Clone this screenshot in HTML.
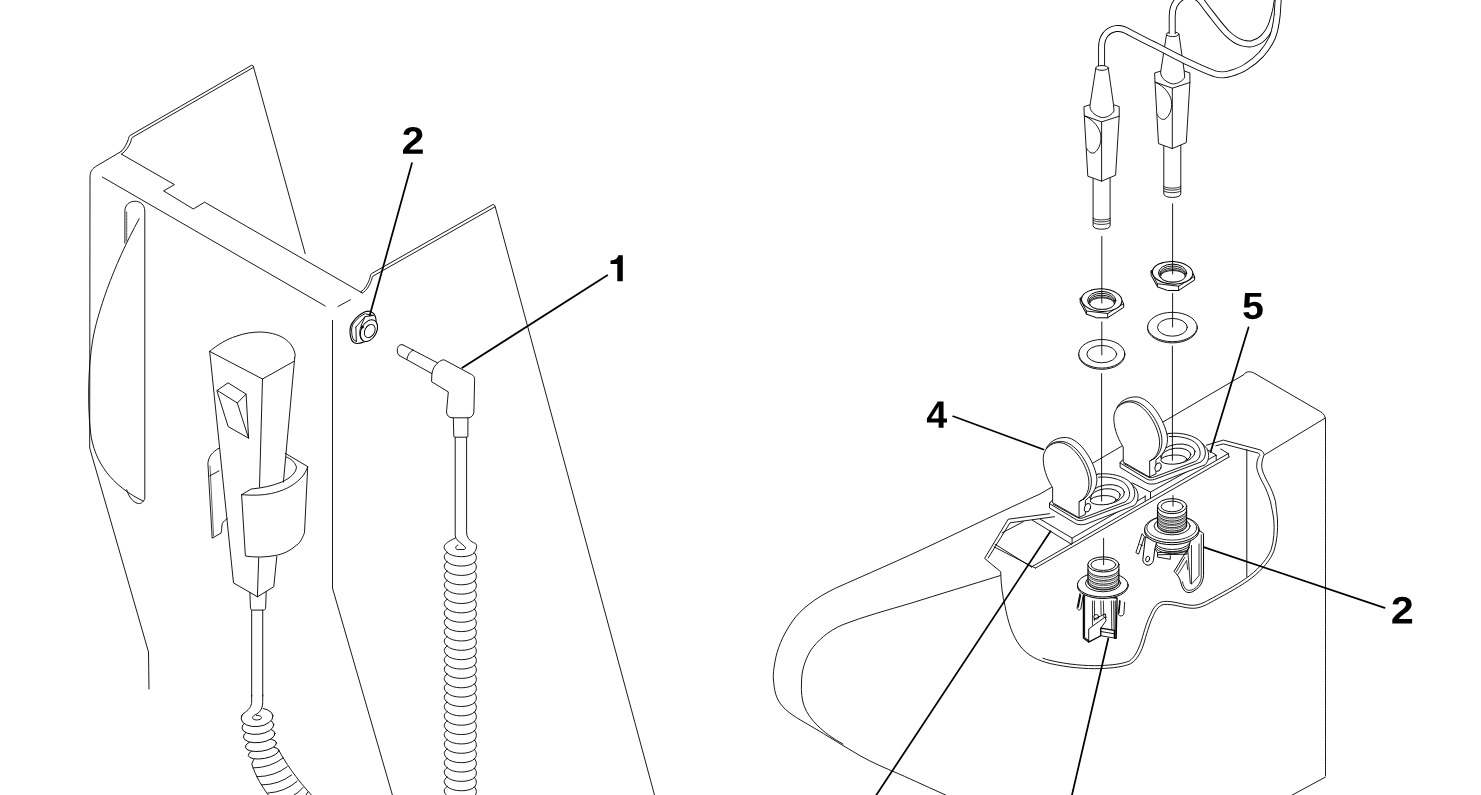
<!DOCTYPE html>
<html><head><meta charset="utf-8"><title>Diagram</title>
<style>
html,body{margin:0;padding:0;background:#fff;}
body{width:1481px;height:795px;overflow:hidden;font-family:"Liberation Sans",sans-serif;}
svg{display:block;}
path,ellipse,circle{stroke-linecap:round;stroke-linejoin:round;}
</style></head><body>
<svg width="1481" height="795" viewBox="0 0 1481 795">
<rect x="0" y="0" width="1481" height="795" fill="#fff"/>
<path d="M121.3 151.4 C124.5 148.6 127 143 128.3 139.5 C128.8 137.5 129 136.5 129.7 135.7 L251.7 65.2 L253.2 65.9 L305.2 253.7" fill="none" stroke="#000" stroke-width="0.9" />
<path d="M121.5 154.2 C125.5 151.5 129 146.5 130.7 142 C131.3 139.8 131.5 138.4 132.2 137.5 L253.1 67.6" fill="none" stroke="#000" stroke-width="0.9" />
<path d="M121.5 154.2 L174.4 184.6 L163.6 190.9 L193.3 209 L204.6 202.2 L361.8 292.7" fill="none" stroke="#000" stroke-width="0.9" />
<path d="M121.3 151.4 L97 165.7 C92 168.7 90 171.5 90 177.5 L89.7 448 L148.5 652 L149 689" fill="none" stroke="#000" stroke-width="0.9" />
<path d="M102.3 177 L325.3 306" fill="none" stroke="#000" stroke-width="0.9" />
<path d="M338 306.5L350.5 299.7" fill="none" stroke="#000" stroke-width="0.9" />
<path d="M332.5 320.4 L332.5 588.2 L392.4 795" fill="none" stroke="#000" stroke-width="0.9" />
<path d="M360.6 292 C365 289.5 368.5 283 370 277.5 C370.3 275.5 370.8 274.3 371.7 273.5 L493.2 204.4 L494.9 205.6 L654.5 795" fill="none" stroke="#000" stroke-width="0.9" />
<path d="M362.2 293.3 C367 290.5 370.5 284 372 278.5 C372.3 277.2 372.5 276.6 372.9 276.2 L494.7 207.0" fill="none" stroke="#000" stroke-width="0.9" />
<path d="M124.9 243.2 L124.9 211 C124.9 198 144.8 198 144.8 211 L144.8 498.5 C143.5 502.5 140 504 138 503.5 C132 502 128 495 126.7 489.7" fill="none" stroke="#000" stroke-width="0.9" />
<path d="M126.7 212 L126.7 241" fill="none" stroke="#000" stroke-width="0.7" stroke-dasharray="2.2 0.8"/>
<path d="M139.2 218.7 C112 268 97 315 92.7 340 C88 368 87.5 405 90.5 432 C94 462 112 486 143 501" fill="none" stroke="#000" stroke-width="0.9" />
<path d="M219 448.2 C212 452 208.5 457 207.9 463.3 L212.2 538.2 L221 533.1 C222 530 221.5 526.5 222.2 523.8 C223.5 521 225.5 520 227.3 518.8" fill="none" stroke="#000" stroke-width="0.9" />
<path d="M209.7 475.9 L219 470.9" fill="none" stroke="#000" stroke-width="0.9" />
<path d="M210 466 L213.6 536" fill="none" stroke="#000" stroke-width="0.6" />
<path d="M209.7 351.4 C217 345 227 339 236 336.3 C245 333 253 332 261.2 332 C272 332.5 281 335.5 286.4 340 C291.5 344 294.5 349.5 295.2 355.2 L294.7 357.7" fill="none" stroke="#000" stroke-width="0.9" />
<path d="M209.7 351.4 L262.5 379 L293.9 361.4" fill="none" stroke="#000" stroke-width="0.9" />
<path d="M209.7 351.4 L233.5 582.9 L257.4 596.8 L273.8 586.7 L276.8 556.5" fill="none" stroke="#000" stroke-width="0.9" />
<path d="M262.5 379 L259.5 487.2" fill="none" stroke="#000" stroke-width="0.9" />
<path d="M258.7 557.8 L257.4 596.8" fill="none" stroke="#000" stroke-width="0.9" />
<path d="M294.7 357.7 L283.4 482.2" fill="none" stroke="#000" stroke-width="0.9" />
<path d="M217.2 390.4 L228 382.8 L246.1 394.1 L248.6 438.2 L228.5 426.8 Z" fill="none" stroke="#000" stroke-width="0.9" />
<path d="M217.2 390.4 L237.3 403 L246.1 394.1 M237.3 403 L248.6 438.2" fill="none" stroke="#000" stroke-width="0.9" />
<path d="M285.1 453.2 L307.7 466.6 L304.5 532.6 C302 540 298 545 296.4 545.2 C290 551 283 554 276.3 555.3 C265 557.5 255 557.5 245.4 556 L241.6 494.7" fill="none" stroke="#000" stroke-width="0.9" />
<path d="M286.4 457 C291 459 295 462 296.4 467 C296.5 472 291 478 281.3 482.2 C272 486 262 488 251.2 489 L241.6 494.7" fill="none" stroke="#000" stroke-width="0.9" />
<path d="M241.6 494.7 C252 495.5 262 495.5 271.3 493.5 C283 491 293 486 300 479 C304 475 306.5 471 307.7 466.6" fill="none" stroke="#000" stroke-width="0.9" />
<path d="M249.9 592.5 L250.4 606.8 C250.5 609 251 610.1 252.4 610.1 L263.7 610.1 C265 610.1 265.6 609 265.7 606.8 L266.2 591.5" fill="none" stroke="#000" stroke-width="0.9" />
<path d="M251.67 610.1 L251.67 696" fill="none" stroke="#000" stroke-width="0.9" />
<path d="M262.74 610.1 L262.74 696" fill="none" stroke="#000" stroke-width="0.9" />
<path d="M403 344.9 L437.7 363 M399.2 355.5 L431.9 373.6" fill="none" stroke="#000" stroke-width="0.9" />
<path d="M403 344.9 C400 343.8 397.5 346 397.3 350 C397.2 353 398 354.8 399.2 355.5" fill="none" stroke="#000" stroke-width="0.9" />
<path d="M413.2 349.9 C410 351.5 407.5 355 406.9 359.3" fill="none" stroke="#000" stroke-width="0.9" />
<path d="M431.9 373.6 C432.5 369 435 365 437.7 363 C440 360.5 442.5 359.6 444.5 360 L471.5 374.5 C473.5 375.6 474.6 377 474.6 379.5 L473.9 412 C473.5 415.5 471 417.8 468.4 417.8 L452 417.8 C449 417.8 446.5 415 446.5 412 L448.3 391.9 L431.9 381.9 Z" fill="none" stroke="#000" stroke-width="0.9" />
<path d="M453.3 417.8 L453.8 435.9 C453.8 437 454.5 437.2 455.3 437.2 L466.6 437.2 C467.5 437.2 467.9 437 467.9 435.9 L467.9 417.8" fill="none" stroke="#000" stroke-width="0.9" />
<path d="M455.2 437.2 L455.2 535.1 C455.5 538 456.5 539.5 457.9 540.6 C461 543.5 464 545.5 465.4 547.3 C465.6 548.5 465 549.3 464.3 549.5 L457.3 549.5 C456.3 549.2 455.7 548.5 455.7 547.6 C456 546.2 456.8 545.4 457.9 545.1" fill="none" stroke="#000" stroke-width="0.9" />
<path d="M466.6 437.2 L466.6 531.9 C466.6 533.5 466.8 534.7 467.1 535.7 C468 538 469 539.5 470.3 540.6 C472.5 542.3 474.5 543 475.7 543.8 C476.8 545 476.8 546 476.5 547 C476.3 549.5 475.5 551 474.1 552.4" fill="none" stroke="#000" stroke-width="0.9" />
<path d="M455.2 538.1 C453.5 539 452 539.6 450.3 540.6 C448 541.8 446.5 543 445.4 544.3 C444.3 545.5 444 546.6 444.1 547.6 C444.5 549.5 445.8 551 447.3 552.4" fill="none" stroke="#000" stroke-width="0.9" />
<path d="M447.10 552.40 C452.10 558.01 469.50 558.31 474.50 552.90 M447.10 552.40 C443.20 555.21 443.20 558.20 447.10 561.76 M474.50 552.90 C477.06 555.71 477.06 559.45 474.50 562.26 M447.10 561.76 C452.10 567.37 469.50 567.67 474.50 562.26 M447.10 561.76 C443.20 564.57 443.20 567.57 447.10 571.12 M474.50 562.26 C477.06 565.07 477.06 568.82 474.50 571.62 M447.10 571.12 C452.10 576.74 469.50 577.04 474.50 571.62 M447.10 571.12 C443.20 573.93 443.20 576.93 447.10 580.49 M474.50 571.62 C477.06 574.43 477.06 578.18 474.50 580.99 M447.10 580.49 C452.10 586.10 469.50 586.40 474.50 580.99 M447.10 580.49 C443.20 583.29 443.20 586.29 447.10 589.85 M474.50 580.99 C477.06 583.79 477.06 587.54 474.50 590.35 M447.10 589.85 C452.10 595.46 469.50 595.76 474.50 590.35 M447.10 589.85 C443.20 592.66 443.20 595.65 447.10 599.21 M474.50 590.35 C477.06 593.16 477.06 596.90 474.50 599.71 M447.10 599.21 C452.10 604.82 469.50 605.12 474.50 599.71 M447.10 599.21 C443.20 602.02 443.20 605.01 447.10 608.57 M474.50 599.71 C477.06 602.52 477.06 606.26 474.50 609.07 M447.10 608.57 C452.10 614.18 469.50 614.48 474.50 609.07 M447.10 608.57 C443.20 611.38 443.20 614.38 447.10 617.93 M474.50 609.07 C477.06 611.88 477.06 615.63 474.50 618.43 M447.10 617.93 C452.10 623.55 469.50 623.85 474.50 618.43 M447.10 617.93 C443.20 620.74 443.20 623.74 447.10 627.30 M474.50 618.43 C477.06 621.24 477.06 624.99 474.50 627.80 M447.10 627.30 C452.10 632.91 469.50 633.21 474.50 627.80 M447.10 627.30 C443.20 630.10 443.20 633.10 447.10 636.66 M474.50 627.80 C477.06 630.60 477.06 634.35 474.50 637.16 M447.10 636.66 C452.10 642.27 469.50 642.57 474.50 637.16 M447.10 636.66 C443.20 639.47 443.20 642.46 447.10 646.02 M474.50 637.16 C477.06 639.97 477.06 643.71 474.50 646.52 M447.10 646.02 C452.10 651.63 469.50 651.93 474.50 646.52 M447.10 646.02 C443.20 648.83 443.20 651.82 447.10 655.38 M474.50 646.52 C477.06 649.33 477.06 653.07 474.50 655.88 M447.10 655.38 C452.10 660.99 469.50 661.29 474.50 655.88 M447.10 655.38 C443.20 658.19 443.20 661.19 447.10 664.74 M474.50 655.88 C477.06 658.69 477.06 662.44 474.50 665.24 M447.10 664.74 C452.10 670.36 469.50 670.66 474.50 665.24 M447.10 664.74 C443.20 667.55 443.20 670.55 447.10 674.11 M474.50 665.24 C477.06 668.05 477.06 671.80 474.50 674.61 M447.10 674.11 C452.10 679.72 469.50 680.02 474.50 674.61 M447.10 674.11 C443.20 676.91 443.20 679.91 447.10 683.47 M474.50 674.61 C477.06 677.41 477.06 681.16 474.50 683.97 M447.10 683.47 C452.10 689.08 469.50 689.38 474.50 683.97 M447.10 683.47 C443.20 686.28 443.20 689.27 447.10 692.83 M474.50 683.97 C477.06 686.78 477.06 690.52 474.50 693.33 M447.10 692.83 C452.10 698.44 469.50 698.74 474.50 693.33 M447.10 692.83 C443.20 695.64 443.20 698.63 447.10 702.19 M474.50 693.33 C477.06 696.14 477.06 699.88 474.50 702.69 M447.10 702.19 C452.10 707.80 469.50 708.10 474.50 702.69 M447.10 702.19 C443.20 705.00 443.20 708.00 447.10 711.55 M474.50 702.69 C477.06 705.50 477.06 709.25 474.50 712.05 M447.10 711.55 C452.10 717.17 469.50 717.47 474.50 712.05 M447.10 711.55 C443.20 714.36 443.20 717.36 447.10 720.92 M474.50 712.05 C477.06 714.86 477.06 718.61 474.50 721.42 M447.10 720.92 C452.10 726.53 469.50 726.83 474.50 721.42 M447.10 720.92 C443.20 723.72 443.20 726.72 447.10 730.28 M474.50 721.42 C477.06 724.22 477.06 727.97 474.50 730.78 M447.10 730.28 C452.10 735.89 469.50 736.19 474.50 730.78 M447.10 730.28 C443.20 733.09 443.20 736.08 447.10 739.64 M474.50 730.78 C477.06 733.59 477.06 737.33 474.50 740.14 M447.10 739.64 C452.10 745.25 469.50 745.55 474.50 740.14 M447.10 739.64 C443.20 742.45 443.20 745.44 447.10 749.00 M474.50 740.14 C477.06 742.95 477.06 746.69 474.50 749.50 M447.10 749.00 C452.10 754.61 469.50 754.91 474.50 749.50 M447.10 749.00 C443.20 751.81 443.20 754.81 447.10 758.36 M474.50 749.50 C477.06 752.31 477.06 756.06 474.50 758.86 M447.10 758.36 C452.10 763.98 469.50 764.28 474.50 758.86 M447.10 758.36 C443.20 761.17 443.20 764.17 447.10 767.73 M474.50 758.86 C477.06 761.67 477.06 765.42 474.50 768.23 M447.10 767.73 C452.10 773.34 469.50 773.64 474.50 768.23 M447.10 767.73 C443.20 770.53 443.20 773.53 447.10 777.09 M474.50 768.23 C477.06 771.03 477.06 774.78 474.50 777.59 M447.10 777.09 C452.10 782.70 469.50 783.00 474.50 777.59 M447.10 777.09 C443.20 779.90 443.20 782.89 447.10 786.45 M474.50 777.59 C477.06 780.40 477.06 784.14 474.50 786.95 M447.10 786.45 C452.10 792.06 469.50 792.36 474.50 786.95 M447.10 786.45 C443.20 789.26 443.20 792.25 447.10 795.81 M474.50 786.95 C477.06 789.76 477.06 793.50 474.50 796.31 " fill="none" stroke="#000" stroke-width="0.9" />
<path d="M254.18 758.52 L251.79 763.93 C255.19 775.50 262.74 788.08 270.28 797.52 L313.68 797.52 C295.44 778.02 284.12 760.41 278.84 750.35 Z" fill="#fff" stroke="#000" stroke-width="0.9" />
<path d="M252.92 767.96 Q270.79 767.70 283.11 757.89 M256.70 776.76 Q274.75 776.51 287.26 766.70 M261.48 784.94 Q279.34 784.69 291.67 774.87 M267.77 793.11 Q285.31 791.92 297.33 781.16 M280.35 799.40 Q294.43 798.21 302.99 787.45 M292.92 801.92 Q303.24 801.67 308.02 791.86 " fill="none" stroke="#000" stroke-width="0.9" />
<ellipse cx="263.55" cy="752.86" rx="15.50" ry="5.60" transform="rotate(-10 263.55 752.86)" fill="#fff" stroke="#000" stroke-width="0.9"/>
<ellipse cx="260.97" cy="745.00" rx="15.70" ry="6.20" transform="rotate(-8 260.97 745.00)" fill="#fff" stroke="#000" stroke-width="0.9"/>
<ellipse cx="259.21" cy="735.25" rx="15.90" ry="7.30" transform="rotate(-7 259.21 735.25)" fill="#fff" stroke="#000" stroke-width="0.9"/>
<ellipse cx="257.89" cy="726.26" rx="16.00" ry="8.00" transform="rotate(-6.5 257.89 726.26)" fill="#fff" stroke="#000" stroke-width="0.9"/>
<ellipse cx="257.08" cy="717.33" rx="16.00" ry="9.20" transform="rotate(-5.5 257.08 717.33)" fill="#fff" stroke="#000" stroke-width="0.9"/>
<path d="M245.13 706.95 L251.67 700.03 L262.74 700.03 L262.74 710.72 L255.19 713.87 L243.87 713.87 Z" fill="#fff" stroke="none" stroke-width="0" />
<path d="M251.67 695.00 L251.67 701.29 C251.67 706.95 248.27 710.09 243.87 713.24 C242.61 714.12 241.86 715.13 241.35 716.38 " fill="none" stroke="#000" stroke-width="0.9" />
<path d="M262.74 695.00 L262.74 701.92 C262.74 707.58 260.85 711.35 257.08 713.87 C253.30 715.13 252.04 717.01 252.92 718.65 C254.56 720.79 260.85 720.16 261.48 717.89 C261.73 716.13 258.96 715.13 256.45 715.50 " fill="none" stroke="#000" stroke-width="0.9" />
<path d="M350.02 329.83 C350.28 325.60 351.87 322.96 353.45 321.38 C356.09 317.68 360.32 313.98 365.07 311.87 C367.72 310.71 371.41 311.34 373.53 313.45 C375.38 315.57 376.17 318.73 376.17 322.43 C377.75 325.07 377.75 328.24 376.70 331.41 C375.11 336.17 370.36 340.39 365.07 341.45 C362.96 342.51 360.32 343.30 357.15 343.56 C353.98 343.56 351.34 340.92 350.55 336.70 C350.02 334.05 349.91 331.94 350.02 329.83 Z" fill="#fff" stroke="#000" stroke-width="1.1" />
<path d="M351.60 329.83 C351.87 326.13 352.92 323.49 354.77 321.90 C357.68 318.21 360.85 315.57 365.07 313.72 M351.60 329.83 C351.60 333.53 352.13 337.75 353.72 339.87 L356.36 341.45 " fill="none" stroke="#000" stroke-width="0.9" />
<path d="M355.83 327.19 L365.07 316.62 L372.47 315.57 M355.83 327.19 L356.36 341.45 M365.07 316.62 L360.85 326.13 M366.13 313.98 L373.79 315.57 " fill="none" stroke="#000" stroke-width="0.9" />
<ellipse cx="368.88" cy="330.62" rx="7.60" ry="11.60" transform="rotate(28 368.88 330.62)" fill="#fff" stroke="#000" stroke-width="1.0"/>
<ellipse cx="369.72" cy="330.99" rx="4.90" ry="7.00" transform="rotate(28 369.72 330.99)" fill="#fff" stroke="#000" stroke-width="0.9"/>
<path d="M360.85 327.19 C359.26 331.41 359.26 335.64 361.38 338.81 " fill="none" stroke="#000" stroke-width="1.0" />
<circle cx="362.43" cy="326.92" r="1.5" fill="#000"/>
<path d="M411.9 163.2L369.7 315.5" fill="none" stroke="#000" stroke-width="1.75" />
<path d="M607.3 275.3L462.3 367.8" fill="none" stroke="#000" stroke-width="1.75" />
<path d="M71 0V195Q126 316 227.5 431.0Q329 546 483 671Q631 791 690.5 869.0Q750 947 750 1022Q750 1206 565 1206Q475 1206 427.5 1157.5Q380 1109 366 1012L83 1028Q107 1224 229.5 1327.0Q352 1430 563 1430Q791 1430 913.0 1326.0Q1035 1222 1035 1034Q1035 935 996.0 855.0Q957 775 896.0 707.5Q835 640 760.5 581.0Q686 522 616.0 466.0Q546 410 488.5 353.0Q431 296 403 231H1057V0Z" transform="translate(401.57 153.8) scale(0.0201 -0.0187)" fill="#000" stroke="none"/>
<path d="M622.8 255.2 L618.2 255.2 C617.8 258.2 615.3 260.2 610.5 260.5 L610.5 264.1 L617.3 264.1 L617.3 281.2 L622.8 281.2 Z" fill="#000"/>
<path d="M1243.3 375 L1040 494 C1000 512 970 527 936.1 542.9 C900 560 865 575 835.5 588.2 C815 598 800 610 792.7 620.9 C782 636 777 650 775.1 661.1 C773 672 773 678 773.8 683 C774.5 692 776.5 698 780.1 703.2 C786 712 797 718 810.3 725.8 C828 736 845 747 860.6 756 C873 763 885 768 898.3 773.6 C915 781 930 788 950 797" fill="none" stroke="#000" stroke-width="0.9" />
<path d="M1000.2 575.6 C970 585 940 594 910.9 603.2 C888 610 865 616 843 624.6 C828 631 817 641 810.3 651 C804 662 801.5 672 801.5 683 C801 692 802 700 804 705.7 C807 714 812 720 817.8 725.8 C824 732 832 738 843 744" fill="none" stroke="#000" stroke-width="0.9" />
<path d="M1243.3 375 C1245 372.5 1248 370.5 1253.4 372.7 L1320.5 411.7 C1324 414 1325.5 416 1325.5 420.5" fill="none" stroke="#000" stroke-width="0.9" />
<path d="M1325.3 418 L1264.9 454.6" fill="none" stroke="#000" stroke-width="0.9" />
<path d="M1325.5 420.5 L1325.5 776" fill="none" stroke="#000" stroke-width="0.9" stroke-dasharray="2.2 0.6"/>
<path d="M1325.5 777 L1288.6 797" fill="none" stroke="#000" stroke-width="0.9" />
<path d="M1246.8 449.6L1246.8 576.8" fill="none" stroke="#000" stroke-width="0.9" />
<path d="M1049.5 513.7 L1008.2 519.2 L984.6 558.4 L1000.7 571.8 C1001 585 1002.5 596 1005 605.8 C1008 622 1012 635 1020.1 646 C1028 656 1038 660.5 1050.3 663.6 C1068 667.5 1085 669 1100.6 668.6 C1113 668 1123 667 1130.8 663.6 C1137 660 1141.5 652 1144.6 641 C1147.5 631 1150 622 1153.4 615.8 C1156 609 1159.5 605.5 1163.5 604.5 C1174 603.5 1184 608.5 1193.7 608.3 C1201 608 1207 604.5 1213.8 600.7 C1228 593 1241 586 1251.5 578.1 C1263 569 1270.5 560 1274.2 550.4 C1277 541 1278 530 1277.5 520 C1277 513 1276 507 1275.6 501.8 C1273.5 494 1271 488 1268 482.9 C1264.5 476 1262 471 1261.7 466.6 C1261.5 462 1263 458 1264.2 454.6 C1263.5 452 1262 450.5 1259.2 449.6 L1223.3 440.1 L1206.4 445.2" fill="none" stroke="#000" stroke-width="0.9" />
<path d="M1054.5 516.7 L1010 522.8 L988.2 558 M1043 658.2 C1045.5 659.2 1048 660 1051 660.6 C1068 664.5 1085 666 1100.4 665.6 C1112.5 665 1122 664 1129.3 661 C1134.5 657.5 1138.5 650 1141.6 640 C1144.5 630 1147 621 1150.5 614.6 C1153.5 607 1157.5 602.5 1163.3 601.5 C1174 600.5 1184 605.5 1193.5 605.3 C1200 605 1206 601.5 1212.3 598.1 C1226.5 590.4 1239.5 583.4 1249.7 575.6 C1260.5 567 1267.5 558.5 1271.2 549.4 C1274 540.5 1274.6 530 1273.8 520 C1273 513 1271.5 507 1270.5 501.8 C1268.5 495 1266.5 490 1264.2 485.4 C1260 478 1257 471.5 1256.7 466.6 C1256.5 462 1258 457 1259.8 455.5 C1259.5 454 1259 453.3 1258 453 L1223.3 443.9 L1215.8 445.8" fill="none" stroke="#000" stroke-width="0.9" />
<path d="M1002.2 532.8 L1023.3 521.7" fill="none" stroke="#000" stroke-width="0.9" />
<path d="M995.1 544.3 L1031.4 567.0 M994.1 546.9 L1035.4 568.1" fill="none" stroke="#000" stroke-width="0.9" />
<path d="M1228.2 453.6 L1031.4 567.0" fill="none" stroke="#000" stroke-width="0.9" />
<path d="M1229 457 L1035.4 568.1" fill="none" stroke="#000" stroke-width="0.9" />
<path d="M1228.2 453.6 L1229 457 M1228.2 453.6 L1220.7 449" fill="none" stroke="#000" stroke-width="0.9" />
<path d="M1040.4 519.2 L1072.1 538.1 L1072.1 543.5 M1032.4 520.2 L1071.6 544.3" fill="none" stroke="#000" stroke-width="0.9" />
<path d="M1072.1 538.1 L1136.2 501.2 L1136.2 492.8 M1145.2 495.8 L1145.2 500.6 M1136.2 501.6 L1145.2 496.4" fill="none" stroke="#000" stroke-width="0.9" />
<path d="M1132.1 482.8 L1150.5 492.1 L1150.5 498.1" fill="none" stroke="#000" stroke-width="0.9" />
<path d="M1150.5 492.1 L1216.2 455.1 L1216.2 459.8 M1216.2 455.1 L1207.5 449.8" fill="none" stroke="#000" stroke-width="0.9" />
<path d="M1120.10 462.98 L1120.10 467.39 L1146.51 483.11 C1149.03 484.37 1153.43 484.37 1156.57 483.49 L1205.00 464.87 C1208.78 461.10 1210.03 454.81 1206.89 448.52 L1201.23 442.23 L1169.15 433.43 Z" fill="#fff" stroke="#000" stroke-width="0.9" />
<path d="M1120.10 462.98 L1147.14 479.34 C1149.03 480.22 1152.17 480.22 1154.69 479.34 L1199.97 462.36 C1206.26 459.21 1207.52 449.78 1201.23 442.23 C1194.94 435.31 1181.10 432.17 1169.15 433.43 L1138.34 444.75 Z" fill="#fff" stroke="#000" stroke-width="0.9" />
<path d="M1123.87 463.61 L1148.15 477.07 C1150.29 477.95 1152.17 477.83 1154.06 477.07 L1195.57 461.35 C1201.23 457.95 1201.86 450.41 1196.45 443.74 C1191.17 438.21 1179.22 435.69 1169.15 436.57 " fill="none" stroke="#000" stroke-width="0.9" />
<ellipse cx="1177.58" cy="453.80" rx="17.60" ry="9.60" transform="rotate(-8 1177.58 453.80)" fill="#fff" stroke="#000" stroke-width="0.9"/>
<ellipse cx="1176.07" cy="455.82" rx="14.80" ry="7.60" transform="rotate(-6 1176.07 455.82)" fill="#fff" stroke="#000" stroke-width="0.9"/>
<ellipse cx="1173.81" cy="459.59" rx="13.00" ry="4.60" transform="rotate(-3 1173.81 459.59)" fill="#fff" stroke="#000" stroke-width="0.9"/>
<path d="M1116.70 408.27 C1119.47 401.35 1127.64 396.32 1137.08 396.95 C1150.91 398.21 1164.75 420.85 1167.27 435.94 C1168.52 444.75 1164.75 453.55 1155.95 459.84 L1155.95 473.93 L1149.66 476.82 L1123.24 461.73 L1123.24 427.14 Z" fill="#fff" stroke="none" stroke-width="0" />
<path d="M1116.70 408.27 C1119.47 401.35 1127.64 396.32 1137.08 396.95 C1150.91 398.21 1164.75 420.85 1167.27 435.94 C1168.52 444.75 1164.75 453.55 1155.95 459.84 L1155.95 473.93 L1149.66 476.82 " fill="none" stroke="#000" stroke-width="0.9" />
<path d="M1117.58 407.01 C1121.35 401.98 1127.27 400.72 1132.05 400.85 C1145.38 401.48 1158.96 420.85 1161.73 436.95 C1162.99 446.63 1159.72 454.81 1153.93 458.96 " fill="none" stroke="#000" stroke-width="0.9" />
<ellipse cx="1158.08" cy="467.14" rx="2.90" ry="4.40" transform="rotate(18 1158.08 467.14)" fill="#fff" stroke="#000" stroke-width="0.9"/>
<path d="M1123.24 461.73 L1123.24 447.01 C1120.47 442.86 1113.68 430.91 1113.81 417.70 C1113.93 408.27 1121.73 401.98 1129.53 401.98 C1142.11 401.98 1155.95 420.85 1159.09 437.20 C1160.98 448.52 1157.20 457.32 1149.66 461.10 L1149.66 476.82 Z" fill="#fff" stroke="#000" stroke-width="0.9" />
<path d="M1149.66 461.10 L1154.94 458.08 " fill="none" stroke="#000" stroke-width="0.9" />
<path d="M1049.50 503.58 L1049.50 507.99 L1075.91 523.71 C1078.43 524.97 1082.83 524.97 1085.97 524.09 L1134.40 505.47 C1138.18 501.70 1139.43 495.41 1136.29 489.12 L1130.63 482.83 L1098.55 474.03 Z" fill="#fff" stroke="#000" stroke-width="0.9" />
<path d="M1049.50 503.58 L1076.54 519.94 C1078.43 520.82 1081.57 520.82 1084.09 519.94 L1129.37 502.96 C1135.66 499.81 1136.92 490.38 1130.63 482.83 C1124.34 475.91 1110.50 472.77 1098.55 474.03 L1067.74 485.35 Z" fill="#fff" stroke="#000" stroke-width="0.9" />
<path d="M1053.27 504.21 L1077.55 517.67 C1079.69 518.55 1081.57 518.43 1083.46 517.67 L1124.97 501.95 C1130.63 498.55 1131.26 491.01 1125.85 484.34 C1120.57 478.81 1108.62 476.29 1098.55 477.17 " fill="none" stroke="#000" stroke-width="0.9" />
<ellipse cx="1106.98" cy="494.40" rx="17.60" ry="9.60" transform="rotate(-8 1106.98 494.40)" fill="#fff" stroke="#000" stroke-width="0.9"/>
<ellipse cx="1105.47" cy="496.42" rx="14.80" ry="7.60" transform="rotate(-6 1105.47 496.42)" fill="#fff" stroke="#000" stroke-width="0.9"/>
<ellipse cx="1103.21" cy="500.19" rx="13.00" ry="4.60" transform="rotate(-3 1103.21 500.19)" fill="#fff" stroke="#000" stroke-width="0.9"/>
<path d="M1046.10 448.87 C1048.87 441.95 1057.04 436.92 1066.48 437.55 C1080.31 438.81 1094.15 461.45 1096.67 476.54 C1097.92 485.35 1094.15 494.15 1085.35 500.44 L1085.35 514.53 L1079.06 517.42 L1052.64 502.33 L1052.64 467.74 Z" fill="#fff" stroke="none" stroke-width="0" />
<path d="M1046.10 448.87 C1048.87 441.95 1057.04 436.92 1066.48 437.55 C1080.31 438.81 1094.15 461.45 1096.67 476.54 C1097.92 485.35 1094.15 494.15 1085.35 500.44 L1085.35 514.53 L1079.06 517.42 " fill="none" stroke="#000" stroke-width="0.9" />
<path d="M1046.98 447.61 C1050.75 442.58 1056.67 441.32 1061.45 441.45 C1074.78 442.08 1088.36 461.45 1091.13 477.55 C1092.39 487.23 1089.12 495.41 1083.33 499.56 " fill="none" stroke="#000" stroke-width="0.9" />
<ellipse cx="1087.48" cy="507.74" rx="2.90" ry="4.40" transform="rotate(18 1087.48 507.74)" fill="#fff" stroke="#000" stroke-width="0.9"/>
<path d="M1052.64 502.33 L1052.64 487.61 C1049.87 483.46 1043.08 471.51 1043.21 458.30 C1043.33 448.87 1051.13 442.58 1058.93 442.58 C1071.51 442.58 1085.35 461.45 1088.49 477.80 C1090.38 489.12 1086.60 497.92 1079.06 501.70 L1079.06 517.42 Z" fill="#fff" stroke="#000" stroke-width="0.9" />
<path d="M1079.06 501.70 L1084.34 498.68 " fill="none" stroke="#000" stroke-width="0.9" />
<ellipse cx="1101.80" cy="355.00" rx="23.00" ry="14.30" transform="rotate(0 1101.80 355.00)" fill="#fff" stroke="#000" stroke-width="0.9"/>
<ellipse cx="1101.80" cy="353.80" rx="23.00" ry="14.30" transform="rotate(0 1101.80 353.80)" fill="#fff" stroke="#000" stroke-width="0.9"/>
<ellipse cx="1101.80" cy="354.10" rx="14.90" ry="8.65" transform="rotate(0 1101.80 354.10)" fill="#fff" stroke="#000" stroke-width="0.9"/>
<ellipse cx="1172.40" cy="328.20" rx="24.80" ry="14.70" transform="rotate(0 1172.40 328.20)" fill="#fff" stroke="#000" stroke-width="0.9"/>
<ellipse cx="1172.40" cy="327.00" rx="24.80" ry="14.70" transform="rotate(0 1172.40 327.00)" fill="#fff" stroke="#000" stroke-width="0.9"/>
<ellipse cx="1172.40" cy="327.30" rx="14.90" ry="8.90" transform="rotate(0 1172.40 327.30)" fill="#fff" stroke="#000" stroke-width="0.9"/>
<path d="M1080.10 298.60 L1080.30 302.70 L1086.60 314.20 L1096.70 317.80 L1107.70 317.80 L1123.80 307.20 L1123.60 303.70 L1118.80 294.60 L1091.60 290.10 Z" fill="#fff" stroke="#000" stroke-width="1.0" />
<path d="M1080.10 298.60 L1086.40 311.00 L1107.70 313.50 L1123.60 303.70 M1086.40 311.00 L1086.60 314.20 M1107.70 313.50 L1107.70 317.80 " fill="none" stroke="#000" stroke-width="0.9" />
<ellipse cx="1101.70" cy="300.10" rx="20.2" ry="11.3" transform="rotate(3 1101.70 300.40)" fill="#fff" stroke="#000" stroke-width="1.0"/>
<ellipse cx="1101.70" cy="300.40" rx="14.10" ry="9.00" transform="rotate(0 1101.70 300.40)" fill="#fff" stroke="#000" stroke-width="1.0"/>
<path d="M1088.65 301.30 A13.05 8.00 0 0 1 1114.75 301.30" fill="none" stroke="#000" stroke-width="0.9" />
<path d="M1089.00 302.20 A12.70 7.00 0 0 1 1114.40 302.20" fill="none" stroke="#000" stroke-width="0.9" />
<path d="M1089.28 303.00 A12.42 6.20 0 0 1 1114.12 303.00" fill="none" stroke="#000" stroke-width="0.8" />
<ellipse cx="1102.10" cy="303.60" rx="12.40" ry="5.80" transform="rotate(0 1102.10 303.60)" fill="#fff" stroke="#000" stroke-width="0.9"/>
<path d="M1151.00 271.30 L1151.20 275.40 L1157.50 286.90 L1167.60 290.50 L1178.60 290.50 L1194.70 279.90 L1194.50 276.40 L1189.70 267.30 L1162.50 262.80 Z" fill="#fff" stroke="#000" stroke-width="1.0" />
<path d="M1151.00 271.30 L1157.30 283.70 L1178.60 286.20 L1194.50 276.40 M1157.30 283.70 L1157.50 286.90 M1178.60 286.20 L1178.60 290.50 " fill="none" stroke="#000" stroke-width="0.9" />
<ellipse cx="1172.60" cy="272.80" rx="20.2" ry="11.3" transform="rotate(3 1172.60 273.10)" fill="#fff" stroke="#000" stroke-width="1.0"/>
<ellipse cx="1172.60" cy="273.10" rx="14.10" ry="9.00" transform="rotate(0 1172.60 273.10)" fill="#fff" stroke="#000" stroke-width="1.0"/>
<path d="M1159.55 274.00 A13.05 8.00 0 0 1 1185.65 274.00" fill="none" stroke="#000" stroke-width="0.9" />
<path d="M1159.90 274.90 A12.70 7.00 0 0 1 1185.30 274.90" fill="none" stroke="#000" stroke-width="0.9" />
<path d="M1160.18 275.70 A12.42 6.20 0 0 1 1185.02 275.70" fill="none" stroke="#000" stroke-width="0.8" />
<ellipse cx="1173.00" cy="276.30" rx="12.40" ry="5.80" transform="rotate(0 1173.00 276.30)" fill="#fff" stroke="#000" stroke-width="0.9"/>
<path d="M1101.8 236.5L1101.8 303" fill="none" stroke="#000" stroke-width="0.9" />
<path d="M1101.8 321.9L1101.8 354.9" fill="none" stroke="#000" stroke-width="0.9" />
<path d="M1101.6 373.6L1101.6 501" fill="none" stroke="#000" stroke-width="0.9" />
<path d="M1172.6 203.8L1172.6 273.9" fill="none" stroke="#000" stroke-width="0.9" />
<path d="M1172.6 293.5L1172.6 327" fill="none" stroke="#000" stroke-width="0.9" />
<path d="M1172.4 346.2L1172.4 460.3" fill="none" stroke="#000" stroke-width="0.9" />
<path d="M1163.80 144.60 L1163.80 193.90 C1163.80 198.60 1180.80 198.60 1180.80 193.90 L1180.80 144.60 Z" fill="#fff" stroke="#000" stroke-width="0.9" />
<path d="M1163.80 186.40 C1166.30 188.80 1178.30 188.80 1180.80 186.40 M1163.80 188.40 C1166.30 190.80 1178.30 190.80 1180.80 188.40 M1163.80 190.90 C1166.30 193.30 1178.30 193.30 1180.80 190.90 " fill="none" stroke="#000" stroke-width="0.8" />
<path d="M1155.00 72.90 L1160.80 71.00 L1184.20 71.00 L1189.90 72.90 L1189.90 82.50 L1186.30 142.60 L1172.30 148.60 L1158.50 143.60 L1155.00 82.00 Z" fill="#fff" stroke="#000" stroke-width="0.9" />
<path d="M1155.00 82.00 L1172.30 88.20 L1189.90 82.50 M1172.30 88.20 L1172.30 148.60 " fill="none" stroke="#000" stroke-width="0.9" />
<path d="M1156.00 82.60 C1164.30 86.20 1170.30 94.20 1171.50 101.20 C1172.30 110.20 1169.30 116.20 1164.80 119.20 C1161.80 120.20 1158.80 117.70 1157.30 114.70 " fill="none" stroke="#000" stroke-width="0.9" />
<path d="M1166.50 34.70 L1160.80 71.00 C1159.80 76.20 1164.30 81.70 1172.30 83.90 C1178.30 84.20 1183.30 80.20 1184.70 77.20 L1184.20 71.00 L1179.00 34.70 Z" fill="#fff" stroke="#000" stroke-width="0.9" />
<ellipse cx="1172.70" cy="34.20" rx="6.20" ry="2.40" transform="rotate(0 1172.70 34.20)" fill="#fff" stroke="#000" stroke-width="0.9"/>
<path d="M1172.2 34 L1172.2 16 C1172.2 6 1177 -1 1184.8 -4.5 C1192 -6.5 1198.5 -3 1202.8 3 C1207 9 1209.5 12 1212.5 15.7 C1218 23 1222 28 1226.7 32.9 C1232 38 1237 41.5 1241.7 42.7 C1246 44 1249.5 44.3 1252.2 43.7 C1257 42.5 1260.5 40.5 1263.4 37.4 C1267.5 33 1270.5 28 1272.2 22.5 C1274 17 1275.3 12 1276.2 7.5 L1277.6 -2" fill="none" stroke="#000" stroke-width="6.9" style="stroke-linecap:butt"/>
<path d="M1172.2 34 L1172.2 16 C1172.2 6 1177 -1 1184.8 -4.5 C1192 -6.5 1198.5 -3 1202.8 3 C1207 9 1209.5 12 1212.5 15.7 C1218 23 1222 28 1226.7 32.9 C1232 38 1237 41.5 1241.7 42.7 C1246 44 1249.5 44.3 1252.2 43.7 C1257 42.5 1260.5 40.5 1263.4 37.4 C1267.5 33 1270.5 28 1272.2 22.5 C1274 17 1275.3 12 1276.2 7.5 L1277.6 -2" fill="none" stroke="#fff" stroke-width="5.1" style="stroke-linecap:butt"/>
<path d="M1101.6 67.6 L1101.6 47 C1101.6 38 1106 30.5 1115.9 28.6 C1121 27.8 1125 29.5 1129.4 32.2 C1138 36.8 1146 41 1154.9 45.2 C1165 50.5 1175 56 1184.8 60.6 C1195 65.5 1205 70.5 1214.7 73.7 C1220 75.3 1225 75.3 1229.7 73.7 C1236 72 1241.5 70 1246.2 66.7 C1252 63 1257 59 1261.1 54.6 C1266 49 1269.5 43.5 1272.4 37.4 C1275 31 1276.3 23 1277.2 15 L1278.3 -2" fill="none" stroke="#000" stroke-width="6.9" style="stroke-linecap:butt"/>
<path d="M1101.6 67.6 L1101.6 47 C1101.6 38 1106 30.5 1115.9 28.6 C1121 27.8 1125 29.5 1129.4 32.2 C1138 36.8 1146 41 1154.9 45.2 C1165 50.5 1175 56 1184.8 60.6 C1195 65.5 1205 70.5 1214.7 73.7 C1220 75.3 1225 75.3 1229.7 73.7 C1236 72 1241.5 70 1246.2 66.7 C1252 63 1257 59 1261.1 54.6 C1266 49 1269.5 43.5 1272.4 37.4 C1275 31 1276.3 23 1277.2 15 L1278.3 -2" fill="none" stroke="#fff" stroke-width="5.1" style="stroke-linecap:butt"/>
<path d="M1093.10 177.20 L1093.10 225.70 C1093.10 230.40 1110.10 230.40 1110.10 225.70 L1110.10 177.20 Z" fill="#fff" stroke="#000" stroke-width="0.9" />
<path d="M1093.10 218.20 C1095.60 220.60 1107.60 220.60 1110.10 218.20 M1093.10 220.20 C1095.60 222.60 1107.60 222.60 1110.10 220.20 M1093.10 222.70 C1095.60 225.10 1107.60 225.10 1110.10 222.70 " fill="none" stroke="#000" stroke-width="0.8" />
<path d="M1084.30 106.60 L1090.10 104.70 L1113.50 104.70 L1119.20 106.60 L1119.20 116.20 L1115.60 175.20 L1101.60 181.20 L1087.80 176.20 L1084.30 115.70 Z" fill="#fff" stroke="#000" stroke-width="0.9" />
<path d="M1084.30 115.70 L1101.60 121.90 L1119.20 116.20 M1101.60 121.90 L1101.60 181.20 " fill="none" stroke="#000" stroke-width="0.9" />
<path d="M1085.30 116.30 C1093.60 119.90 1099.60 127.90 1100.80 134.90 C1101.60 143.90 1098.60 149.90 1094.10 152.90 C1091.10 153.90 1088.10 151.40 1086.60 148.40 " fill="none" stroke="#000" stroke-width="0.9" />
<path d="M1095.80 68.40 L1090.10 104.70 C1089.10 109.90 1093.60 115.40 1101.60 117.60 C1107.60 117.90 1112.60 113.90 1114.00 110.90 L1113.50 104.70 L1108.30 68.40 Z" fill="#fff" stroke="#000" stroke-width="0.9" />
<ellipse cx="1102.00" cy="67.90" rx="6.20" ry="2.40" transform="rotate(0 1102.00 67.90)" fill="#fff" stroke="#000" stroke-width="0.9"/>
<path d="M1083.41 594.95 L1083.41 638.01 L1088.70 642.08 L1100.79 635.74 L1100.79 628.19 L1114.38 630.45 L1114.38 638.01 L1116.19 638.46 L1117.10 597.98 Z" fill="#fff" stroke="#000" stroke-width="1.3" />
<path d="M1088.70 642.08 L1088.70 628.94 L1105.32 616.86 L1106.07 620.63 L1100.79 628.19 M1100.79 635.74 L1114.38 638.01 M1100.79 631.51 L1114.38 633.78 " fill="none" stroke="#000" stroke-width="0.9" />
<path d="M1092.48 601.00 L1092.48 625.17 M1094.44 601.00 L1094.44 620.63 M1100.79 601.00 L1101.09 614.59 M1103.35 601.00 L1103.81 616.86 M1113.63 601.00 L1114.08 629.70 M1111.36 601.00 L1111.81 629.70 " fill="none" stroke="#000" stroke-width="0.8" />
<ellipse cx="1096.25" cy="616.86" rx="2.40" ry="2.40" transform="rotate(0 1096.25 616.86)" fill="#fff" stroke="#000" stroke-width="0.9"/>
<path d="M1093.99 619.12 L1105.32 613.84 L1106.07 617.61 " fill="none" stroke="#000" stroke-width="0.9" />
<path d="M1084.62 596.47 L1084.62 637.55 L1089.00 640.73 " fill="none" stroke="#000" stroke-width="1.0" />
<path d="M1115.29 601.00 L1115.29 637.55 " fill="none" stroke="#000" stroke-width="0.9" />
<path d="M1079.94 593.44 L1077.07 607.79 C1077.37 610.06 1079.94 610.82 1080.85 608.85 L1082.96 596.47 " fill="#fff" stroke="#000" stroke-width="0.9" />
<path d="M1078.13 607.04 L1080.54 594.95 " fill="none" stroke="#000" stroke-width="1.4" />
<path d="M1119.67 600.24 L1118.16 613.84 C1118.91 616.86 1123.14 616.40 1123.90 613.84 L1124.65 602.21 " fill="#fff" stroke="#000" stroke-width="0.9" />
<path d="M1120.12 601.00 L1118.91 613.08 " fill="none" stroke="#000" stroke-width="1.2" />
<ellipse cx="1102.75" cy="586.19" rx="25.30" ry="12.30" transform="rotate(0 1102.75 586.19)" fill="#fff" stroke="#000" stroke-width="1.0"/>
<ellipse cx="1102.75" cy="584.68" rx="25.30" ry="12.30" transform="rotate(0 1102.75 584.68)" fill="#fff" stroke="#000" stroke-width="1.0"/>
<ellipse cx="1103.05" cy="583.17" rx="17.60" ry="8.60" transform="rotate(0 1103.05 583.17)" fill="#fff" stroke="#000" stroke-width="0.9"/>
<path d="M1087.95 564.44 L1087.95 583.17 C1090.95 592.17 1115.91 592.17 1118.91 583.17 L1118.91 564.44 Z" fill="#fff" stroke="#000" stroke-width="1.0" />
<path d="M1087.95 569.58 C1090.95 579.08 1115.91 579.08 1118.91 569.58" fill="none" stroke="#000" stroke-width="0.9" />
<path d="M1087.95 571.18 C1090.95 580.58 1115.91 580.58 1118.91 571.18" fill="none" stroke="#000" stroke-width="0.6" />
<path d="M1087.95 573.35 C1090.95 582.85 1115.91 582.85 1118.91 573.35" fill="none" stroke="#000" stroke-width="0.9" />
<path d="M1087.95 574.95 C1090.95 584.35 1115.91 584.35 1118.91 574.95" fill="none" stroke="#000" stroke-width="0.6" />
<path d="M1087.95 577.13 C1090.95 586.63 1115.91 586.63 1118.91 577.13" fill="none" stroke="#000" stroke-width="0.9" />
<path d="M1087.95 578.73 C1090.95 588.13 1115.91 588.13 1118.91 578.73" fill="none" stroke="#000" stroke-width="0.6" />
<path d="M1087.95 580.91 C1090.95 590.41 1115.91 590.41 1118.91 580.91" fill="none" stroke="#000" stroke-width="0.9" />
<path d="M1087.95 582.51 C1090.95 591.91 1115.91 591.91 1118.91 582.51" fill="none" stroke="#000" stroke-width="0.6" />
<ellipse cx="1103.35" cy="564.44" rx="15.50" ry="7.60" transform="rotate(0 1103.35 564.44)" fill="#fff" stroke="#000" stroke-width="1.0"/>
<ellipse cx="1103.35" cy="564.74" rx="12.40" ry="5.70" transform="rotate(0 1103.35 564.74)" fill="#fff" stroke="#000" stroke-width="0.9"/>
<path d="M1103.6 538.3L1103.6 564.7" fill="none" stroke="#000" stroke-width="0.9" />
<path d="M1198.26 529.56 L1203.55 533.64 L1203.55 575.63 C1202.79 583.19 1199.02 587.72 1195.24 589.98 C1192.22 592.55 1188.44 593.46 1185.42 591.50 C1183.16 589.98 1181.65 586.21 1180.59 581.68 C1179.68 577.90 1177.11 574.12 1174.09 571.40 L1178.17 564.76 L1182.40 557.51 L1188.44 548.44 L1191.47 536.36 Z" fill="#fff" stroke="#000" stroke-width="1.0" />
<path d="M1191.47 545.42 L1191.47 583.94 L1193.73 581.68 L1199.02 575.63 L1199.02 543.91 M1187.69 549.20 L1190.26 583.19 L1191.47 583.94 M1201.28 534.85 L1201.28 577.15 C1200.53 583.19 1196.75 587.42 1193.73 589.23 C1190.71 590.74 1187.69 590.74 1185.73 589.23 C1184.21 587.72 1183.16 584.70 1182.40 581.68 M1176.36 571.86 L1184.67 557.51 M1178.17 574.12 L1186.63 560.53 L1187.69 569.59 " fill="none" stroke="#000" stroke-width="0.8" />
<path d="M1154.46 547.69 L1157.48 552.52 L1186.93 551.77 L1189.20 547.69 M1157.48 552.52 L1157.48 557.05 L1170.32 559.32 L1170.32 555.69 M1157.48 554.79 L1186.93 554.18 L1186.93 551.77 " fill="none" stroke="#000" stroke-width="0.9" />
<path d="M1145.39 537.11 L1142.82 559.77 C1143.13 563.55 1146.15 565.82 1149.17 565.06 C1152.19 564.31 1153.70 561.28 1153.70 558.26 L1154.91 548.44 L1156.72 542.40 Z" fill="#fff" stroke="#000" stroke-width="1.0" />
<ellipse cx="1147.66" cy="559.02" rx="1.90" ry="2.90" transform="rotate(15 1147.66 559.02)" fill="#fff" stroke="#000" stroke-width="0.9"/>
<path d="M1141.92 534.09 L1135.88 552.67 L1138.60 554.18 L1144.34 537.11 Z" fill="#fff" stroke="#000" stroke-width="0.9" />
<path d="M1140.11 544.67 L1142.82 545.42 " fill="none" stroke="#000" stroke-width="0.8" />
<path d="M1155.97 544.21 C1161.25 551.47 1183.91 551.47 1189.20 543.61 " fill="none" stroke="#000" stroke-width="0.9" />
<path d="M1155.97 546.33 C1161.25 553.58 1183.91 553.58 1189.20 545.73 " fill="none" stroke="#000" stroke-width="0.9" />
<path d="M1155.97 548.44 C1161.25 555.69 1183.91 555.69 1189.20 547.84 " fill="none" stroke="#000" stroke-width="0.9" />
<ellipse cx="1171.83" cy="531.07" rx="27.20" ry="13.60" transform="rotate(0 1171.83 531.07)" fill="#fff" stroke="#000" stroke-width="1.0"/>
<ellipse cx="1171.83" cy="529.11" rx="27.20" ry="13.60" transform="rotate(0 1171.83 529.11)" fill="#fff" stroke="#000" stroke-width="1.0"/>
<ellipse cx="1171.83" cy="527.90" rx="25.00" ry="12.20" transform="rotate(0 1171.83 527.90)" fill="#fff" stroke="#000" stroke-width="0.8"/>
<ellipse cx="1172.13" cy="526.09" rx="18.00" ry="8.80" transform="rotate(0 1172.13 526.09)" fill="#fff" stroke="#000" stroke-width="0.9"/>
<path d="M1157.48 506.15 L1157.48 526.09 C1160.48 535.09 1183.63 535.09 1186.63 526.09 L1186.63 506.15 Z" fill="#fff" stroke="#000" stroke-width="1.0" />
<path d="M1157.48 510.68 C1160.48 520.18 1183.63 520.18 1186.63 510.68" fill="none" stroke="#000" stroke-width="0.9" />
<path d="M1157.48 512.18 C1160.48 521.48 1183.63 521.48 1186.63 512.18" fill="none" stroke="#000" stroke-width="0.6" />
<path d="M1157.48 514.00 C1160.48 523.50 1183.63 523.50 1186.63 514.00" fill="none" stroke="#000" stroke-width="0.9" />
<path d="M1157.48 515.50 C1160.48 524.80 1183.63 524.80 1186.63 515.50" fill="none" stroke="#000" stroke-width="0.6" />
<path d="M1157.48 517.33 C1160.48 526.83 1183.63 526.83 1186.63 517.33" fill="none" stroke="#000" stroke-width="0.9" />
<path d="M1157.48 518.83 C1160.48 528.13 1183.63 528.13 1186.63 518.83" fill="none" stroke="#000" stroke-width="0.6" />
<path d="M1157.48 520.65 C1160.48 530.15 1183.63 530.15 1186.63 520.65" fill="none" stroke="#000" stroke-width="0.9" />
<path d="M1157.48 522.15 C1160.48 531.45 1183.63 531.45 1186.63 522.15" fill="none" stroke="#000" stroke-width="0.6" />
<path d="M1157.48 523.97 C1160.48 533.47 1183.63 533.47 1186.63 523.97" fill="none" stroke="#000" stroke-width="0.9" />
<path d="M1157.48 525.47 C1160.48 534.77 1183.63 534.77 1186.63 525.47" fill="none" stroke="#000" stroke-width="0.6" />
<ellipse cx="1172.13" cy="506.15" rx="14.60" ry="7.50" transform="rotate(0 1172.13 506.15)" fill="#fff" stroke="#000" stroke-width="1.0"/>
<ellipse cx="1172.13" cy="506.45" rx="11.00" ry="5.30" transform="rotate(0 1172.13 506.45)" fill="#fff" stroke="#000" stroke-width="0.9"/>
<path d="M1173 495.6L1173 506.1" fill="none" stroke="#000" stroke-width="0.9" />
<path d="M953.2 416.3L1043.5 449.5" fill="none" stroke="#000" stroke-width="1.75" />
<path d="M1248.5 327.4L1210.6 451.9" fill="none" stroke="#000" stroke-width="1.75" />
<path d="M1203.7 547.2L1384.6 607.8" fill="none" stroke="#000" stroke-width="1.75" />
<path d="M1050.5 531.3L875 797" fill="none" stroke="#000" stroke-width="1.75" />
<path d="M1108.3 638.5L1071.5 797" fill="none" stroke="#000" stroke-width="1.75" />
<path d="M940 287V0H672V287H31V498L626 1409H940V496H1128V287ZM672 957Q672 1011 675.5 1074.0Q679 1137 681 1155Q655 1099 587 993L260 496H672Z" transform="translate(926.33 427.7) scale(0.01832 -0.01852)" fill="#000" stroke="none"/>
<path d="M1082 469Q1082 245 942.5 112.5Q803 -20 560 -20Q348 -20 220.5 75.5Q93 171 63 352L344 375Q366 285 422.0 244.0Q478 203 563 203Q668 203 730.5 270.0Q793 337 793 463Q793 574 734.0 640.5Q675 707 569 707Q452 707 378 616H104L153 1409H1000V1200H408L385 844Q487 934 640 934Q841 934 961.5 809.0Q1082 684 1082 469Z" transform="translate(1242.09 318.93) scale(0.01914 -0.01847)" fill="#000" stroke="none"/>
<path d="M71 0V195Q126 316 227.5 431.0Q329 546 483 671Q631 791 690.5 869.0Q750 947 750 1022Q750 1206 565 1206Q475 1206 427.5 1157.5Q380 1109 366 1012L83 1028Q107 1224 229.5 1327.0Q352 1430 563 1430Q791 1430 913.0 1326.0Q1035 1222 1035 1034Q1035 935 996.0 855.0Q957 775 896.0 707.5Q835 640 760.5 581.0Q686 522 616.0 466.0Q546 410 488.5 353.0Q431 296 403 231H1057V0Z" transform="translate(1390.87 623.4) scale(0.0201 -0.0186)" fill="#000" stroke="none"/>
</svg>
</body></html>
